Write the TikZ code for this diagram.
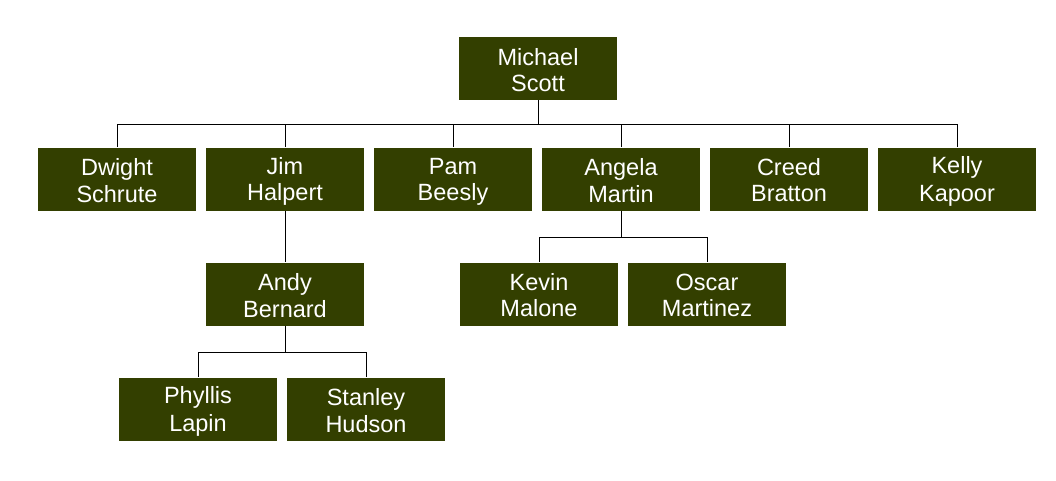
\documentclass[tikz,border=0pt]{standalone}
\usepackage{fontspec}
\setmainfont{Liberation Sans}
\usepackage{xcolor}
\usepackage{tikz}
\definecolor{boxolive}{HTML}{333F00}
\newcommand{\lnstrut}{\rule[-2pt]{0pt}{23.5pt}}
\newcommand{\who}[2]{\lnstrut#1\\\lnstrut#2}

\begin{document}
\begin{tikzpicture}[x=1pt, y=-1pt,
            person/.style = {rectangle,
                        fill=boxolive,
                        minimum width=158pt,
                        minimum height=63pt,
                        inner sep=0pt,
                        align=center,
                        text=white,
                        font=\fontsize{23.5}{26}\selectfont},
            link/.style = {draw=black, line width=1pt}]
            \useasboundingbox (0,0) rectangle (1056,480);
            % Top
            \node[person] (M) at (538,68.5) {\who{Michael}{Scott}};
            % Second row
            \node[person] (D) at (117,179) {\who{Dwight}{Schrute}};
            \node[person] (J) at (285,179) {\who{Jim}{Halpert}};
            \node[person] (P) at (453,179) {\who{Pam}{Beesly}};
            \node[person] (A) at (621,179) {\who{Angela}{Martin}};
            \node[person] (C) at (789,179) {\who{Creed}{Bratton}};
            \node[person] (K) at (957,179) {\who{Kelly}{Kapoor}};
            % Third row
            \node[person] (AB) at (285,294) {\who{Andy}{Bernard}};
            \node[person] (KM) at (539,294) {\who{Kevin}{Malone}};
            \node[person] (OM) at (707,294) {\who{Oscar}{Martinez}};
            % Fourth row
            \node[person] (PL) at (198,409) {\who{Phyllis}{Lapin}};
            \node[person] (SH) at (366,409) {\who{Stanley}{Hudson}};
            % Connectors
            \foreach \c in {D,J,P,A,C,K}
                \draw[link] (M.south) -- ++(0,24) -| (\c.north);
            \draw[link] (J.south) -- (AB.north);
            \foreach \c in {KM,OM}
                \draw[link] (A.south) -- ++(0,27) -| (\c.north);
            \foreach \c in {PL,SH}
                \draw[link] (AB.south) -- ++(0,27) -| (\c.north);
        \end{tikzpicture}
\end{document}
